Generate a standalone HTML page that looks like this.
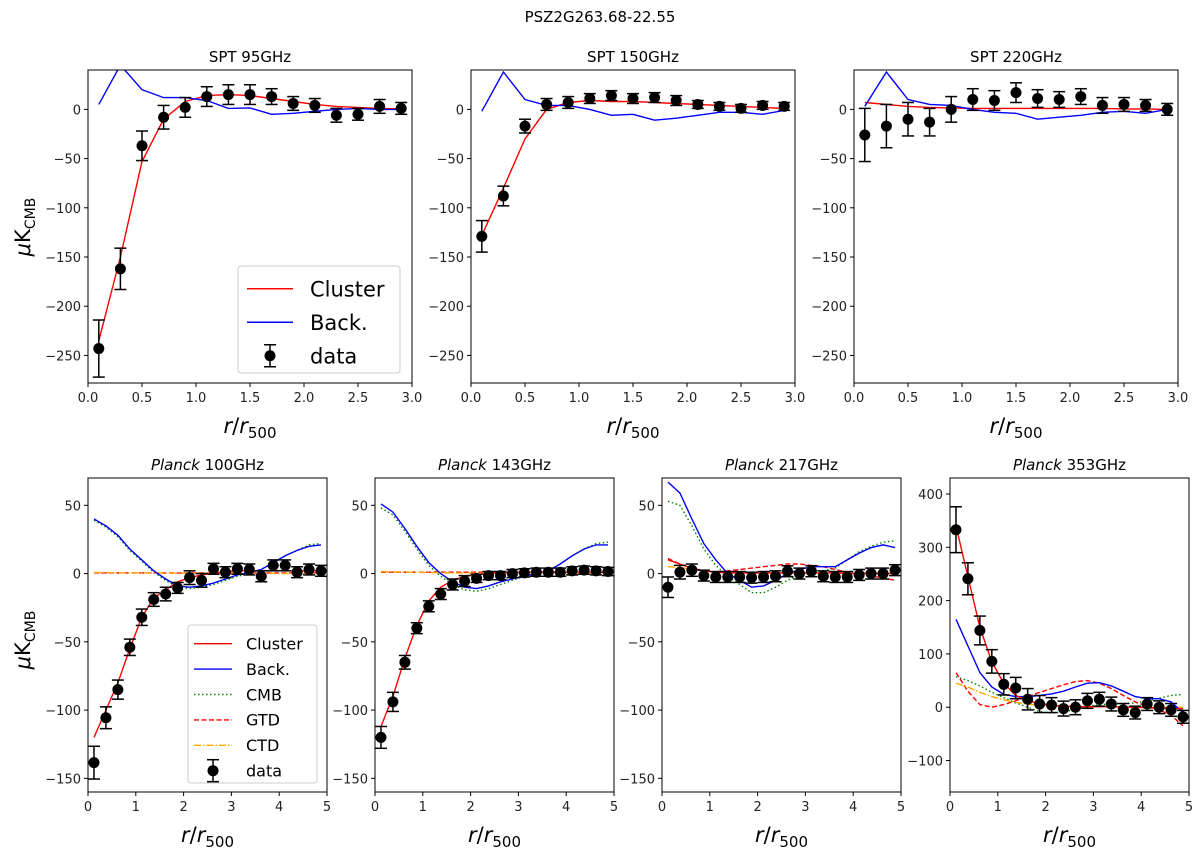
<!DOCTYPE html>
<html><head><meta charset="utf-8">
<style>
html,body{margin:0;padding:0;background:#fff;}
svg{display:block;font-family:"DejaVu Sans","Liberation Sans",sans-serif;}
</style></head>
<body>
<svg id="fig" width="1200" height="856" viewBox="0 0 1200 856" xmlns="http://www.w3.org/2000/svg">
<text x="600" y="22" text-anchor="middle" font-size="15">PSZ2G263.68-22.55</text>
<text transform="translate(30,227) rotate(-90)" text-anchor="middle" font-size="21"><tspan font-style="italic">μ</tspan>K<tspan font-size="14" dy="5">CMB</tspan></text>
<text transform="translate(30,640) rotate(-90)" text-anchor="middle" font-size="21"><tspan font-style="italic">μ</tspan>K<tspan font-size="14" dy="5">CMB</tspan></text>
</svg>
<script>
// ---- data ----
const sptR = [0.1,0.3,0.5,0.7,0.9,1.1,1.3,1.5,1.7,1.9,2.1,2.3,2.5,2.7,2.9];
const spt95Obs = [-243,-162,-37,-8,2,13,15,15,13,6,4,-6,-5,3,1];
const spt95Err = [29,21,15,12,10,10,10,10,8,7,7,7,6,7,6];
const spt95Cluster = [-235,-150,-53,-10,8,14,15,14,11,8,5,3,2,1,0.5];
const spt95Back = [5,45,20,12,12,9,1,1.5,-5,-4,-2,0,1,0,0];
const spt150Obs = [-129,-88,-17,5,7,11,14,11,12,9,5,3,1,4,3];
const spt150Err = [16,10,7,6,6,5,5,5,5,5,4,4,4,4,4];
const spt150Cluster = [-128,-80,-30,0,7,9,8,8,7,6,5,4,3,2,1];
const spt150Back = [-2,38,10,4,4,0,-6,-5,-11,-9,-6,-3,-3,-5,-1];
const spt220Obs = [-26,-17,-10,-13,0,10,9,17,11,10,13,4,5,4,0];
const spt220Err = [27,22,17,14,13,11,10,10,9,8,8,8,7,6,6];
const spt220Cluster = [7,5,3,2,1.5,1,1,1,1,1,1,1,0.5,0.5,0];
const spt220Back = [3,38,10,5,4,0,-3,-4,-10,-8,-6,-3,-2,-4,0];

const planckR = [0.125,0.375,0.625,0.875,1.125,1.375,1.625,1.875,2.125,2.375,2.625,2.875,3.125,3.375,3.625,3.875,4.125,4.375,4.625,4.875];
const p100Obs = [-138.5,-105.6,-85,-54,-32,-19,-15,-10.5,-3,-5,3.5,1,3.5,3,-2,6,6,1,3,2];
const p100Err = [12,8,7,6,6,5,5,4,5,5,4,4,4,4,4,4,4,4,4,4];
const p100Cluster = [-120,-100,-80,-55,-32,-18,-12,-6,-3,-1,0.5,1.5,2,2,2,2,2,2,2,2];
const p100Back = [40,35,28,18,10,2,-4,-9,-10,-9,-7,-4,-1,1,3,8,13,17,20,21];
const p100Cmb = [39,34,27,17,9,1,-5,-10,-11,-10,-8,-5,-2,0,3,8,13,17,21,22];
const p100Gtd = [0.5,0.5,0.5,0.5,0.5,0.5,0.5,0.5,0.5,0.5,0.5,0.5,0.5,0.5,0.5,0.5,0.5,0.5,0.5,0.5];
const p100Ctd = [0.8,0.7,0.6,0.5,0.5,0.4,0.4,0.3,0.3,0.3,0.2,0.2,0.2,0.1,0.1,0.1,0,0,0,0];
const p143Obs = [-120,-94,-65,-40,-24,-15,-8,-5.5,-3.5,-1.5,-1.5,0,0.5,1,1,1,2,2.5,2,1.5];
const p143Err = [8,7,5,4,4,4,4,4,3,3,3,3,3,3,3,3,3,3,3,3];
const p143Cluster = [-112,-90,-62,-38,-20,-10,-5,-2,-1,0,0.5,1,1,1,1,1,1,1,1,1];
const p143Back = [51,45,33,20,8,0,-6,-10,-11,-9,-6,-4,-2,0,2,7,13,18,21,21];
const p143Cmb = [48,43,31,18,6,-2,-8,-12,-13,-11,-8,-5,-2,0,2,7,13,18,22,23];
const p143Gtd = [1,1,1,1,1,1,1,1,1,1,1,1,1,1,1,1,1,1,1,1];
const p143Ctd = [1.5,1.3,1.1,0.9,0.7,0.6,0.5,0.4,0.3,0.3,0.2,0.2,0.1,0.1,0.1,0,0,0,0,0];
const p217Obs = [-10,1,2.5,-1.5,-2.5,-2.5,-2.5,-3,-2.5,-2,1.7,0,1.7,-2,-2.5,-2.5,-1,0,0,2.5];
const p217Err = [7.5,5,4.5,4,4,4,4,4,4,4,4,4,4,4,4,4,4,4,4,4];
const p217Cluster = [10,7,4,2,1,0.5,0.5,0.5,0.5,0.5,0.5,0.5,0.5,0.5,0.4,0.3,0.2,0.1,0,0];
const p217Back = [67,59,40,22,10,0,-5,-10,-9,-5,0,3,5,5,5,10,15,19,21,19];
const p217Cmb = [53,50,35,18,6,-2,-8,-14,-14,-10,-5,-1,1,2,4,10,16,20,23,24];
const p217Gtd = [11,7,4,2,1,2,3,4,5,6,7,7,6,5,3,1,-1,-2,-3,-5];
const p217Ctd = [5,4.5,3,2,1,0.5,0.5,0.5,0.5,0.5,0.5,0.5,0.5,0.5,0.5,0.5,0.5,0.5,0.5,0.5];
const p353Obs = [333,241,144,86,43,36,15,6,4,-2.5,0,12,15,6,-5,-10,6,0,-5,-18];
const p353Err = [43,30,27,22,20,20,20,16,14,14,14,14,13,13,12,12,12,12,12,12];
const p353Cluster = [340,245,150,85,45,22,12,7,4,2,1,1,1,1,0,0,-1,-2,-2,-3];
const p353Back = [165,115,65,38,24,20,20,22,25,30,38,45,46,40,30,20,16,16,10,-10];
const p353Cmb = [57,50,40,28,18,8,0,-8,-11,-9,-4,2,5,6,7,8,12,17,22,24];
const p353Gtd = [65,30,5,0,5,12,20,28,35,42,48,50,45,35,22,10,2,-5,-15,-35];
const p353Ctd = [45,38,28,20,14,9,6,4,3,2,1,1,1,1,0.5,0.5,0,0,0,0];

const sptXTicks = ["0.0","0.5","1.0","1.5","2.0","2.5","3.0"];
const sptYTicks = [0,-50,-100,-150,-200,-250];
const planckXTicks = ["0","1","2","3","4","5"];
const planckYTicks = [50,0,-50,-100,-150];
const p353YTicks = [400,300,200,100,0,-100];

// ---- drawing ----
const NS = "http://www.w3.org/2000/svg";
const svg = document.getElementById('fig');
function mk(tag, attrs, parent){
  const e = document.createElementNS(NS, tag);
  for (const k in attrs) e.setAttribute(k, attrs[k]);
  (parent||svg).appendChild(e);
  return e;
}
let clipId = 0;
function panel(p){
  const g = mk('g', {});
  
  
  const sx = v => p.x0 + (v - p.xmin) / (p.xmax - p.xmin) * (p.x1 - p.x0);
  const sy = v => p.y1 - (v - p.ymin) / (p.ymax - p.ymin) * (p.y1 - p.y0);
  clipId++;
  const cp = mk('clipPath', {id:'c'+clipId}, g);
  mk('rect', {x:p.x0, y:p.y0, width:p.x1-p.x0, height:p.y1-p.y0}, cp);
  const plot = mk('g', {'clip-path':'url(#c'+clipId+')'}, g);
  const t = mk('text', {x:(p.x0+p.x1)/2, y:p.y0-8, 'text-anchor':'middle', 'font-size':15}, g);
  
  
  if (p.italic){
    const a = mk('tspan', {'font-style':'italic'}, t); a.textContent = p.italic;
    const b = mk('tspan', {}, t); b.textContent = ' ' + p.title;
  } else t.textContent = p.title;
  p.lines.forEach(L => {
    const pts = L.y.map((v,i) => sx(L.x[i]).toFixed(1)+','+sy(v).toFixed(1)).join(' ');
    const pl = mk('polyline', {points:pts, fill:'none', stroke:L.color, 'stroke-width':1.4, 'stroke-dasharray':L.dash||'none'}, plot);
    
    
  });
  p.obs.forEach((v,i) => {
    const cx = sx(p.ox[i]);
    const e = p.err[i];
    const eg = mk('g', {}, plot);
    
    
    mk('line', {x1:cx, x2:cx, y1:sy(v+e), y2:sy(v-e), stroke:'#000', 'stroke-width':1.5}, eg);
    mk('line', {x1:cx-6, x2:cx+6, y1:sy(v+e), y2:sy(v+e), stroke:'#000', 'stroke-width':1.5}, eg);
    mk('line', {x1:cx-6, x2:cx+6, y1:sy(v-e), y2:sy(v-e), stroke:'#000', 'stroke-width':1.5}, eg);
    mk('circle', {cx:cx, cy:sy(v), r:5.5, fill:'#000'}, eg);
  });
  const fr = mk('rect', {x:p.x0, y:p.y0, width:p.x1-p.x0, height:p.y1-p.y0, fill:'none', stroke:'#000', 'stroke-width':1}, g);
  
  
  p.xt.forEach(s => {
    const X = sx(parseFloat(s));
    mk('line', {x1:X, x2:X, y1:p.y1, y2:p.y1+4, stroke:'#000'}, g);
    const tl = mk('text', {x:X, y:p.y1+19, 'text-anchor':'middle', 'font-size':13, fill:'#222'}, g);
    
    
    tl.textContent = s;
  });
  p.yt.forEach(v => {
    const Y = sy(v);
    mk('line', {x1:p.x0-4, x2:p.x0, y1:Y, y2:Y, stroke:'#000'}, g);
    const tl = mk('text', {x:p.x0-7, y:Y+5, 'text-anchor':'end', 'font-size':13, fill:'#222'}, g);
    
    
    tl.textContent = v < 0 ? '\u2212' + (-v) : String(v);
  });
  const xl = mk('text', {x:(p.x0+p.x1)/2, y:p.y1+50, 'text-anchor':'middle', 'font-size':21}, g);
  
  
  const a1 = mk('tspan', {'font-style':'italic'}, xl); a1.textContent = 'r';
  const a2 = mk('tspan', {}, xl); a2.textContent = '/';
  const a3 = mk('tspan', {'font-style':'italic'}, xl); a3.textContent = 'r';
  const a4 = mk('tspan', {'font-size':15, dy:5}, xl); a4.textContent = '500';
  return g;
}
const topCfg = {y0:70, y1:383, xmin:0, xmax:3, ymin:-278, ymax:40, xt:sptXTicks, yt:sptYTicks, ox:sptR};
const topPanels = [
  {name:'panel-spt-95', title:'SPT 95GHz', x0:88, x1:412, obs:spt95Obs, err:spt95Err, c:spt95Cluster, b:spt95Back},
  {name:'panel-spt-150', title:'SPT 150GHz', x0:471, x1:795, obs:spt150Obs, err:spt150Err, c:spt150Cluster, b:spt150Back},
  {name:'panel-spt-220', title:'SPT 220GHz', x0:854, x1:1178, obs:spt220Obs, err:spt220Err, c:spt220Cluster, b:spt220Back}
];
topPanels.forEach(q => panel(Object.assign({}, topCfg, q, {lines:[
  {x:sptR, y:q.c, color:'#ff0000', label:'cluster'},
  {x:sptR, y:q.b, color:'#0000ff', label:'back'}]})));
const botCfg = {y0:478, y1:792, xmin:0, xmax:5, ymin:-160, ymax:70, xt:planckXTicks, yt:planckYTicks, ox:planckR, italic:'Planck'};
const botPanels = [
  {name:'panel-planck-100', title:'100GHz', x0:88, x1:327, obs:p100Obs, err:p100Err, c:p100Cluster, b:p100Back, m:p100Cmb, gt:p100Gtd, ct:p100Ctd},
  {name:'panel-planck-143', title:'143GHz', x0:375, x1:614, obs:p143Obs, err:p143Err, c:p143Cluster, b:p143Back, m:p143Cmb, gt:p143Gtd, ct:p143Ctd},
  {name:'panel-planck-217', title:'217GHz', x0:662, x1:901, obs:p217Obs, err:p217Err, c:p217Cluster, b:p217Back, m:p217Cmb, gt:p217Gtd, ct:p217Ctd},
  {name:'panel-planck-353', title:'353GHz', x0:950, x1:1189, obs:p353Obs, err:p353Err, c:p353Cluster, b:p353Back, m:p353Cmb, gt:p353Gtd, ct:p353Ctd, ymin:-159, ymax:430, yt:p353YTicks}
];
botPanels.forEach(q => panel(Object.assign({}, botCfg, q, {lines:[
  {x:planckR, y:q.m, color:'#008000', dash:'1.5,2.5', label:'cmb'},
  {x:planckR, y:q.gt, color:'#ff0000', dash:'5,2.5', label:'gtd'},
  {x:planckR, y:q.ct, color:'#ffa500', dash:'7,2,1.5,2', label:'ctd'},
  {x:planckR, y:q.b, color:'#0000ff', label:'back'},
  {x:planckR, y:q.c, color:'#ff0000', label:'cluster'}]})));

function legend(x, y, w, h, entries, fs, step, lx0, lx1, tx){
  const g = mk('g', {});
  
  
  mk('rect', {x:x, y:y, width:w, height:h, rx:3, fill:'#fff', 'fill-opacity':0.85, stroke:'#ccc'}, g);
  entries.forEach((e,i) => {
    const cy = y + step*0.5 + 6 + i*step;
    const eg = mk('g', {}, g);
    
    
    if (e.color){
      mk('line', {x1:lx0, x2:lx1, y1:cy, y2:cy, stroke:e.color, 'stroke-width':1.4, 'stroke-dasharray':e.dash||'none'}, eg);
    } else {
      const mx = (lx0+lx1)/2;
      mk('line', {x1:mx, x2:mx, y1:cy-11, y2:cy+11, stroke:'#000', 'stroke-width':1.5}, eg);
      mk('line', {x1:mx-6, x2:mx+6, y1:cy-11, y2:cy-11, stroke:'#000', 'stroke-width':1.5}, eg);
      mk('line', {x1:mx-6, x2:mx+6, y1:cy+11, y2:cy+11, stroke:'#000', 'stroke-width':1.5}, eg);
      mk('circle', {cx:mx, cy:cy, r:5.5, fill:'#000'}, eg);
    }
    const t = mk('text', {x:tx, y:cy+fs*0.36, 'font-size':fs}, eg);
    t.textContent = e.label;
  });
}
legend(238, 266, 162, 107, [{label:'Cluster', color:'#ff0000'},{label:'Back.', color:'#0000ff'},{label:'data'}], 21, 33.5, 247, 293, 310);
legend(188, 625, 129, 158, [{label:'Cluster', color:'#ff0000'},{label:'Back.', color:'#0000ff'},{label:'CMB', color:'#008000', dash:'1.5,2.5'},{label:'GTD', color:'#ff0000', dash:'5,2.5'},{label:'CTD', color:'#ffa500', dash:'7,2,1.5,2'},{label:'data'}], 16, 25.4, 194, 232, 246);
</script>
</body></html>
